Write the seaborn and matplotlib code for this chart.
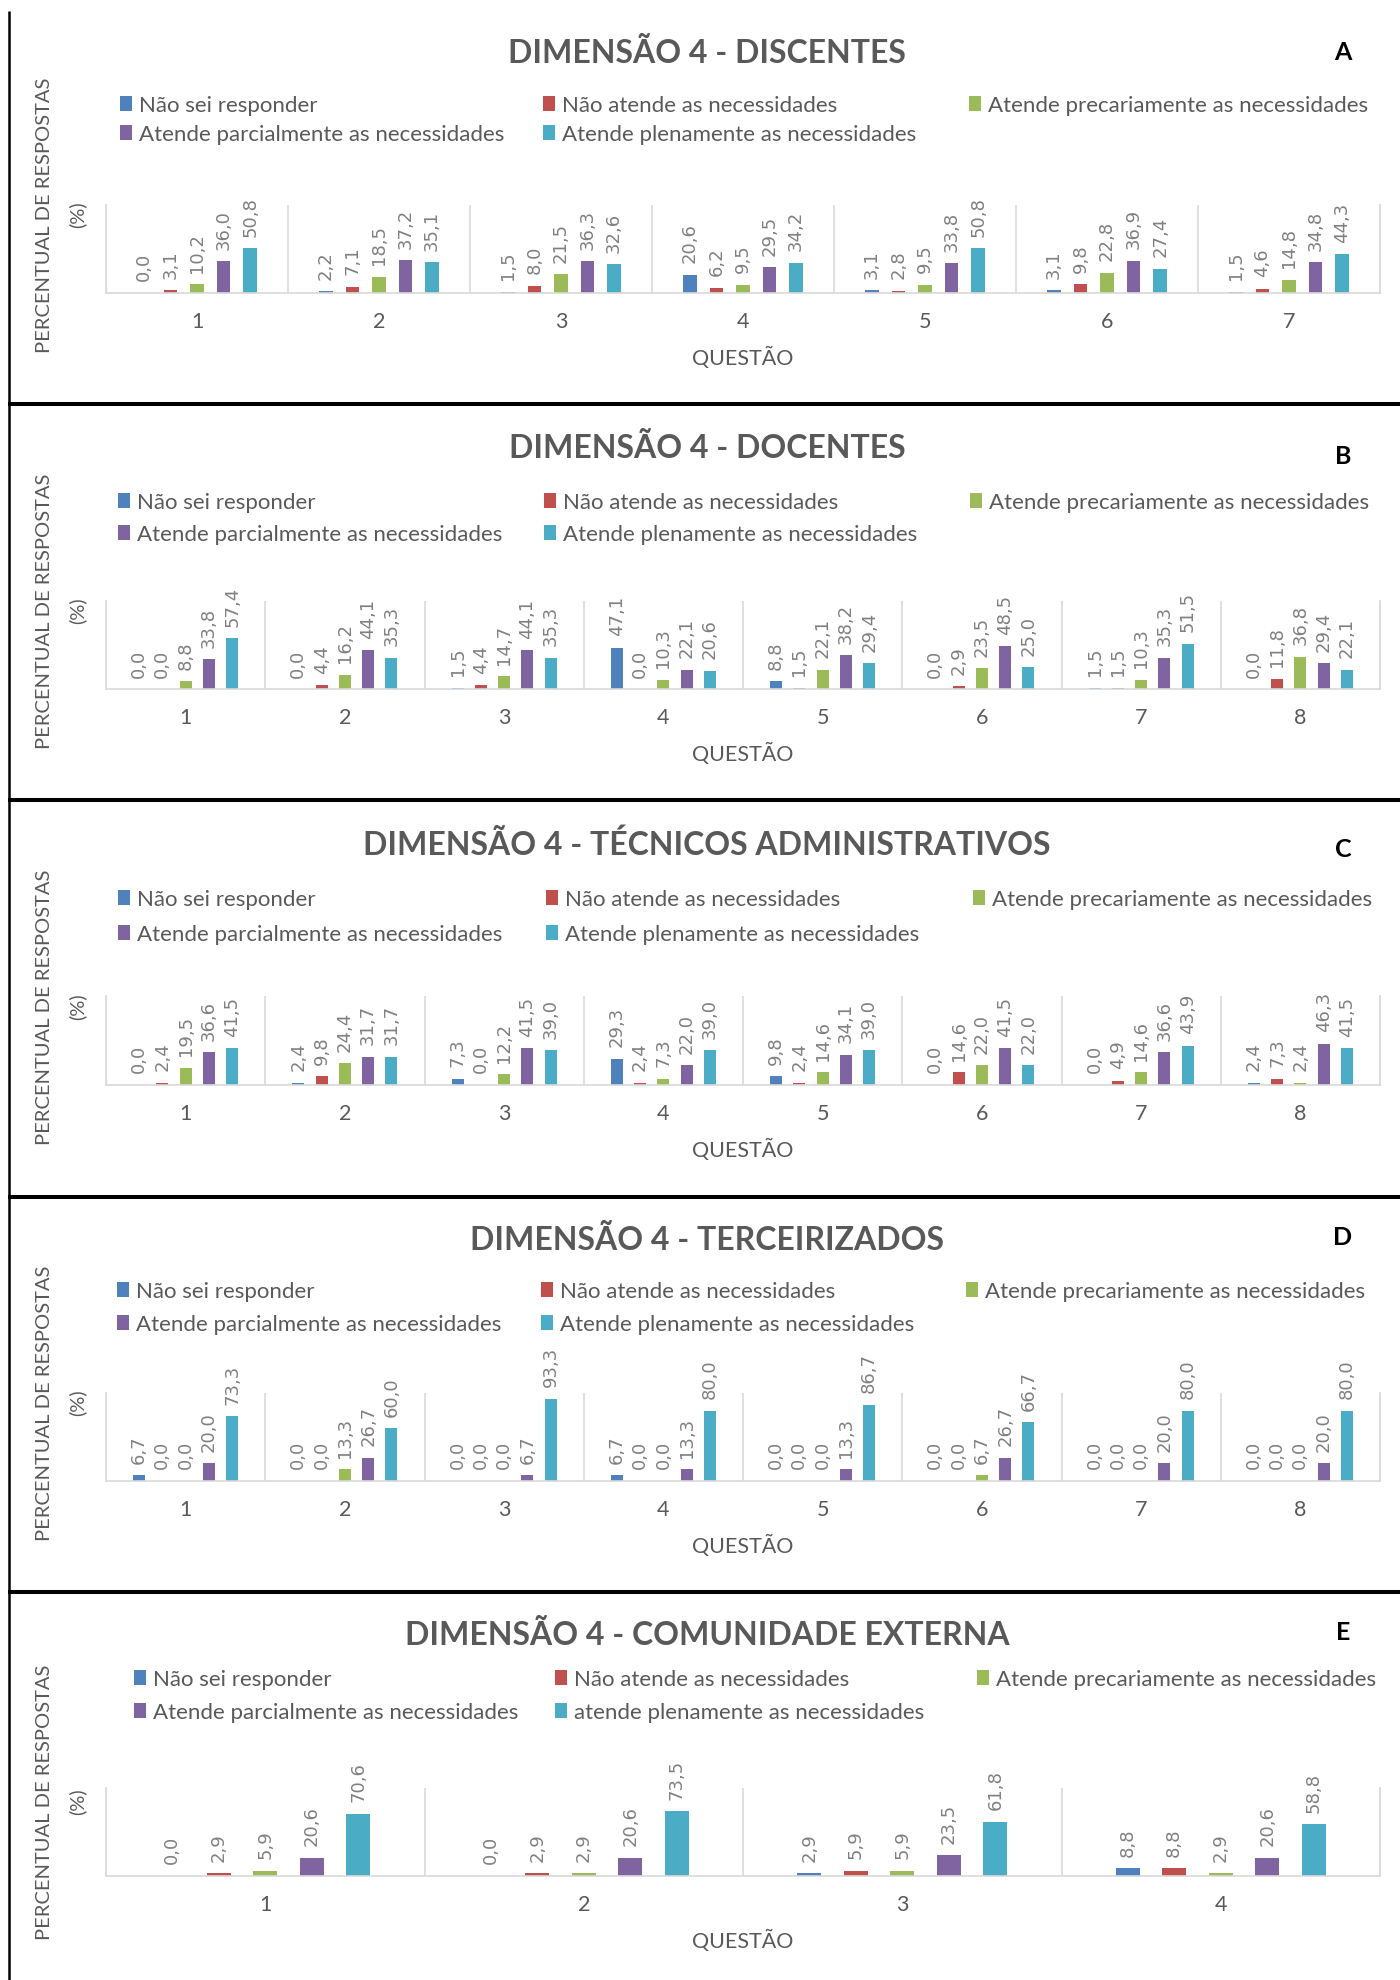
import numpy as np
import pandas as pd
import matplotlib
matplotlib.use("Agg")
import matplotlib.pyplot as plt
import matplotlib.patches as mpatches
from matplotlib.lines import Line2D
import seaborn as sns

# ---------------------------------------------------------------- data
RESPOSTAS = [
    "Não sei responder",
    "Não atende as necessidades",
    "Atende precariamente as necessidades",
    "Atende parcialmente as necessidades",
    "Atende plenamente as necessidades",
]
RESPOSTAS_EXTERNA = [
    "Não sei responder",
    "Não atende as necessidades",
    "Atende precariamente as necessidades",
    "Atende parcialmente as necessidades",
    "atende plenamente as necessidades",
]
CORES = ["#4F81BD", "#C0504D", "#9BBB59", "#8064A2", "#4BACC6"]

# A - Discentes (questões 1-7)
disc_nao_sei = [0.0, 2.2, 1.5, 20.6, 3.1, 3.1, 1.5]
disc_nao_atende = [3.1, 7.1, 8.0, 6.2, 2.8, 9.8, 4.6]
disc_precario = [10.2, 18.5, 21.5, 9.5, 9.5, 22.8, 14.8]
disc_parcial = [36.0, 37.2, 36.3, 29.5, 33.8, 36.9, 34.8]
disc_pleno = [50.8, 35.1, 32.6, 34.2, 50.8, 27.4, 44.3]

# B - Docentes (questões 1-8)
doc_nao_sei = [0.0, 0.0, 1.5, 47.1, 8.8, 0.0, 1.5, 0.0]
doc_nao_atende = [0.0, 4.4, 4.4, 0.0, 1.5, 2.9, 1.5, 11.8]
doc_precario = [8.8, 16.2, 14.7, 10.3, 22.1, 23.5, 10.3, 36.8]
doc_parcial = [33.8, 44.1, 44.1, 22.1, 38.2, 48.5, 35.3, 29.4]
doc_pleno = [57.4, 35.3, 35.3, 20.6, 29.4, 25.0, 51.5, 22.1]

# C - Técnicos administrativos (questões 1-8)
tec_nao_sei = [0.0, 2.4, 7.3, 29.3, 9.8, 0.0, 0.0, 2.4]
tec_nao_atende = [2.4, 9.8, 0.0, 2.4, 2.4, 14.6, 4.9, 7.3]
tec_precario = [19.5, 24.4, 12.2, 7.3, 14.6, 22.0, 14.6, 2.4]
tec_parcial = [36.6, 31.7, 41.5, 22.0, 34.1, 41.5, 36.6, 46.3]
tec_pleno = [41.5, 31.7, 39.0, 39.0, 39.0, 22.0, 43.9, 41.5]

# D - Terceirizados (questões 1-8)
ter_nao_sei = [6.7, 0.0, 0.0, 6.7, 0.0, 0.0, 0.0, 0.0]
ter_nao_atende = [0.0, 0.0, 0.0, 0.0, 0.0, 0.0, 0.0, 0.0]
ter_precario = [0.0, 13.3, 0.0, 0.0, 0.0, 6.7, 0.0, 0.0]
ter_parcial = [20.0, 26.7, 6.7, 13.3, 13.3, 26.7, 20.0, 20.0]
ter_pleno = [73.3, 60.0, 93.3, 80.0, 86.7, 66.7, 80.0, 80.0]

# E - Comunidade externa (questões 1-4)
ext_nao_sei = [0.0, 0.0, 2.9, 8.8]
ext_nao_atende = [2.9, 2.9, 5.9, 8.8]
ext_precario = [5.9, 2.9, 5.9, 2.9]
ext_parcial = [20.6, 20.6, 23.5, 20.6]
ext_pleno = [70.6, 73.5, 61.8, 58.8]

TITULOS = [
    "DIMENSÃO 4 - DISCENTES",
    "DIMENSÃO 4 - DOCENTES",
    "DIMENSÃO 4 - TÉCNICOS ADMINISTRATIVOS",
    "DIMENSÃO 4 - TERCEIRIZADOS",
    "DIMENSÃO 4 - COMUNIDADE EXTERNA",
]
LETRAS = ["A", "B", "C", "D", "E"]

SERIES = [
    [disc_nao_sei, disc_nao_atende, disc_precario, disc_parcial, disc_pleno],
    [doc_nao_sei, doc_nao_atende, doc_precario, doc_parcial, doc_pleno],
    [tec_nao_sei, tec_nao_atende, tec_precario, tec_parcial, tec_pleno],
    [ter_nao_sei, ter_nao_atende, ter_precario, ter_parcial, ter_pleno],
    [ext_nao_sei, ext_nao_atende, ext_precario, ext_parcial, ext_pleno],
]
LEGENDAS = [RESPOSTAS, RESPOSTAS, RESPOSTAS, RESPOSTAS, RESPOSTAS_EXTERNA]

# ---------------------------------------------------------------- layout (pixels)
W, H, DPI = 1400, 1981, 100
LAYOUT = [
    dict(title_y=53, letter_y=53, rows=(106, 135), cols=(120, 543, 969), top=206, base=294, ylab=215),
    dict(title_y=448, letter_y=457, rows=(503, 535), cols=(118, 544, 970), top=602, base=690, ylab=611),
    dict(title_y=845, letter_y=850, rows=(900, 935), cols=(118, 546, 973), top=997, base=1086, ylab=1007),
    dict(title_y=1240, letter_y=1238, rows=(1292, 1325), cols=(117, 541, 966), top=1394, base=1482, ylab=1403),
    dict(title_y=1635, letter_y=1633, rows=(1680, 1713), cols=(134, 555, 977), top=1789, base=1877, ylab=1802),
]
AX_LEFT, AX_RIGHT = 106, 1380
SEPARADORES = [405, 801, 1198, 1593]

TXT = "#595959"
ROTULO = "#808080"
GRADE = "#D9D9D9"

sns.set_theme(style="white")
plt.rcParams["font.family"] = ["Lato", "DejaVu Sans"]


def fx(x):
    return x / W


def fy(y):
    return 1 - y / H


def fmt(v):
    return f"{v:.1f}".replace(".", ",")


fig = plt.figure(figsize=(W / DPI, H / DPI), dpi=DPI)
fig.patch.set_facecolor("white")

# slot of each legend entry: (column, row), filled row by row
POS_LEG = [(0, 0), (1, 0), (2, 0), (0, 1), (1, 1)]

for series, respostas, titulo, letra, lay in zip(SERIES, LEGENDAS, TITULOS, LETRAS, LAYOUT):
    n = len(series[0])
    questoes = [str(i + 1) for i in range(n)]
    df = pd.DataFrame({
        "questao": np.tile(questoes, len(respostas)),
        "resposta": np.repeat(respostas, n),
        "valor": np.concatenate(series),
    })

    ax = fig.add_axes([fx(AX_LEFT), fy(lay["base"]),
                       fx(AX_RIGHT) - fx(AX_LEFT), (lay["base"] - lay["top"]) / H])
    sns.barplot(data=df, x="questao", y="valor", hue="resposta",
                order=questoes, hue_order=respostas, palette=CORES,
                saturation=1, width=0.73, gap=0.48, errorbar=None,
                legend=False, linewidth=0, ax=ax)

    for cont, serie in zip(ax.containers, series):
        ax.bar_label(cont, labels=[fmt(v) for v in serie], rotation=90,
                     padding=9, fontsize=13, color=ROTULO, family="DejaVu Sans")

    ax.set_ylim(0, 100)
    ax.set_xlim(-0.5, n - 0.5)
    ax.set_xlabel("")
    ax.set_ylabel("")
    ax.set_yticks([])
    ax.set_xticks(np.arange(-0.5, n), minor=True)
    ax.grid(False)
    ax.xaxis.grid(True, which="minor", color=GRADE, linewidth=1.2)
    ax.tick_params(axis="x", which="both", length=0, pad=13,
                   labelsize=15.5, labelcolor=TXT)
    ax.spines["top"].set_visible(False)
    for lado in ("left", "right", "bottom"):
        ax.spines[lado].set_color(GRADE)
        ax.spines[lado].set_linewidth(1.2)
    ax.set_facecolor("none")

    # title and panel letter
    fig.text(fx(707), fy(lay["title_y"]), titulo, ha="center", va="center",
             fontsize=23, fontweight="bold", color=TXT)
    fig.text(fx(1343), fy(lay["letter_y"]), letra, ha="center", va="center",
             fontsize=18, fontweight="bold", color="black")

    # axis titles
    fig.text(fx(45), fy(lay["ylab"]), "PERCENTUAL DE RESPOSTAS", rotation=90,
             ha="center", va="center", fontsize=14.5, color=TXT)
    fig.text(fx(77), fy(lay["ylab"]), "(%)", rotation=90,
             ha="center", va="center", fontsize=14.5, color=TXT)
    fig.text(fx((AX_LEFT + AX_RIGHT) / 2), fy(lay["base"] + 64), "QUESTÃO",
             ha="center", va="center", fontsize=15.5, color=TXT)

    # legend entries placed on a 3-column grid
    for rotulo, cor, (c, r) in zip(respostas, CORES, POS_LEG):
        h = mpatches.Patch(facecolor=cor, edgecolor="none")
        fig.legend(handles=[h], labels=[rotulo], loc="center left",
                   bbox_to_anchor=(fx(lay["cols"][c]), fy(lay["rows"][r])),
                   frameon=False, borderpad=0, borderaxespad=0,
                   handlelength=0.55, handleheight=0.65, handletextpad=0.3,
                   fontsize=16, labelcolor=TXT)

# panel frame lines
for y in SEPARADORES:
    fig.add_artist(Line2D([fx(8), 1], [fy(y), fy(y)], transform=fig.transFigure,
                          color="black", linewidth=2.9, solid_capstyle="butt"))
fig.add_artist(Line2D([fx(8.5), fx(8.5)], [fy(12), 0], transform=fig.transFigure,
                      color="black", linewidth=1.8, solid_capstyle="butt"))

fig.savefig("out.png", dpi=DPI, facecolor="white")
